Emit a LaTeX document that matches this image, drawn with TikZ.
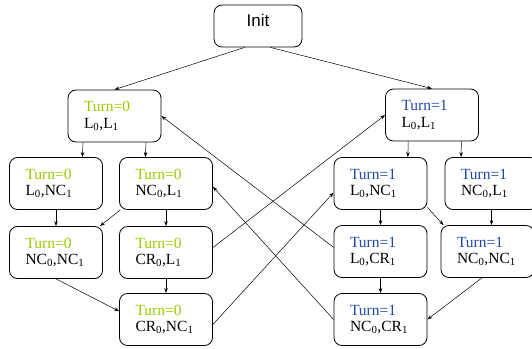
\documentclass[tikz,border=0pt]{standalone}
\usepackage{fontspec}
\setmainfont{Liberation Serif}
\newfontfamily\initfont{Liberation Sans}
\usepackage{tikz}
\usetikzlibrary{arrows.meta}

\definecolor{turnzero}{RGB}{153,204,0}
\definecolor{turnone}{RGB}{32,72,170}

\newcommand{\tzero}{{\color{turnzero}Turn=0}}
\newcommand{\tone}{{\color{turnone}Turn=1}}

\begin{document}
\begin{tikzpicture}[x=1pt, y=-1pt,
    state/.style={draw, rounded corners=8pt, line width=0.8pt, minimum height=52pt,
        text width=61pt, inner xsep=16pt, inner ysep=0pt, align=left,
        font=\fontsize{15.5}{16.5}\selectfont},
    edge/.style={-{Stealth[length=5pt,width=3.5pt]}, line width=0.5pt}];
    \useasboundingbox (0,0) rectangle (532,348);

    \node[draw, rounded corners=8pt, line width=0.8pt, minimum width=88pt, inner sep=0pt,
        text height=22pt, text depth=20pt, font=\initfont\fontsize{17}{17}\selectfont] (init) at (258,26) {Init};

    \node[state] (a0) at (114.5,116) {\tzero\\L\textsubscript{0},L\textsubscript{1}};
    \node[state] (a1) at (56,183.5) {\tzero\\L\textsubscript{0},NC\textsubscript{1}};
    \node[state] (a2) at (166,183.5) {\tzero\\NC\textsubscript{0},L\textsubscript{1}};
    \node[state] (a3) at (56,252.5) {\tzero\\NC\textsubscript{0},NC\textsubscript{1}};
    \node[state] (a4) at (166,252.5) {\tzero\\CR\textsubscript{0},L\textsubscript{1}};
    \node[state] (a5) at (166,319.5) {\tzero\\CR\textsubscript{0},NC\textsubscript{1}};

    \node[state] (b0) at (432,115) {\tone\\L\textsubscript{0},L\textsubscript{1}};
    \node[state] (b1) at (380.5,183.5) {\tone\\L\textsubscript{0},NC\textsubscript{1}};
    \node[state] (b2) at (491.5,183.5) {\tone\\NC\textsubscript{0},L\textsubscript{1}};
    \node[state] (b3) at (380.5,251.5) {\tone\\L\textsubscript{0},CR\textsubscript{1}};
    \node[state] (b4) at (487.5,251.5) {\tone\\NC\textsubscript{0},NC\textsubscript{1}};
    \node[state] (b5) at (380.5,319.5) {\tone\\NC\textsubscript{0},CR\textsubscript{1}};

    \draw[edge] (init.238) -- (a0.north);
    \draw[edge] (init.300) -- (b0.north);

    \draw[edge] (a0.220) -- (a1.45);
    \draw[edge] (a0.320) -- (a2.128);
    \draw[edge] (a1.south) -- (a3.north);
    \draw[edge] (a2.210) -- (a3.31);
    \draw[edge] (a2.south) -- (a4.north);
    \draw[edge] (a4.south) -- (a5.north);
    \draw[edge] (a3.south) -- (a5.170);

    \draw[edge] (b0.228) -- (b1.44);
    \draw[edge] (b0.318) -- (b2.139);
    \draw[edge] (b1.south) -- (b3.north);
    \draw[edge] (b1.333) -- (b4.149);
    \draw[edge] (b2.south) -- (b2.south |- b4.north);
    \draw[edge] (b3.south) -- (b5.north);
    \draw[edge] (b4.258) -- (b5.east);

    \draw[edge] (a4.6) -- (b0.west);
    \draw[edge] (a5.354) -- (b1.191);
    \draw[edge] (b3.175) -- (a0.east);
    \draw[edge] (b5.west) -- (a2.356);
\end{tikzpicture}
\end{document}
